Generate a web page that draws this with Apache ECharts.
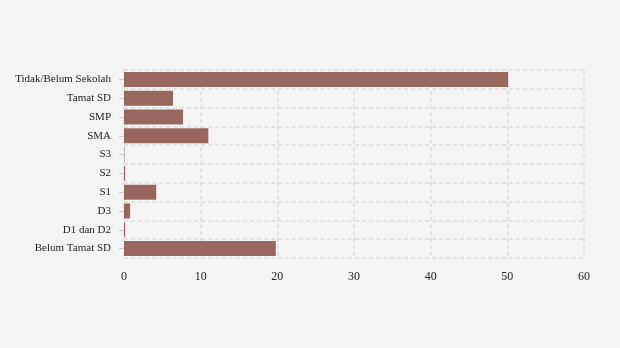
<!DOCTYPE html>
<html>
<head>
<meta charset="utf-8">
<style>
  html, body { margin: 0; padding: 0; background: #f4f4f4; }
  #chart { width: 620px; height: 348px; }
</style>
<script src="https://cdn.jsdelivr.net/npm/echarts@6/dist/echarts.min.js"></script>
</head>
<body>
<div id="chart"></div>
<script>
// Education levels, listed bottom-to-top as drawn on the category axis
const categories = ['Belum Tamat SD', 'D1 dan D2', 'D3', 'S1', 'S2', 'S3', 'SMA', 'SMP', 'Tamat SD', 'Tidak/Belum Sekolah'];
const values = [19.8, 0.15, 0.8, 4.2, 0.15, 0.05, 11.0, 7.7, 6.4, 50.1];
const xTicks = { min: 0, max: 60, interval: 10 };

const chart = echarts.init(document.getElementById('chart'));
const font = '"Liberation Serif", "Times New Roman", serif';
const gridLine = { show: true, lineStyle: { color: '#dddddd', type: [4, 3], width: 1.5 } };

chart.setOption({
  backgroundColor: '#f4f4f4',
  animation: false,
  grid: { left: 124, right: 36, top: 70, bottom: 90 },
  xAxis: {
    type: 'value',
    min: xTicks.min, max: xTicks.max, interval: xTicks.interval,
    axisLine: { show: false },
    axisTick: { show: false },
    axisLabel: { color: '#222', fontFamily: font, fontSize: 12, margin: 13 },
    splitLine: gridLine
  },
  yAxis: {
    type: 'category',
    data: categories,
    axisLine: { show: false },
    axisTick: { show: true, alignWithLabel: true, length: 5, lineStyle: { color: '#cccccc' } },
    axisLabel: { color: '#222', fontFamily: font, fontSize: 11, margin: 13 },
    splitLine: gridLine
  },
  series: [{
    type: 'bar',
    data: values,
    barCategoryGap: '20%',
    itemStyle: { color: '#98675e' }
  }]
});
</script>
</body>
</html>
